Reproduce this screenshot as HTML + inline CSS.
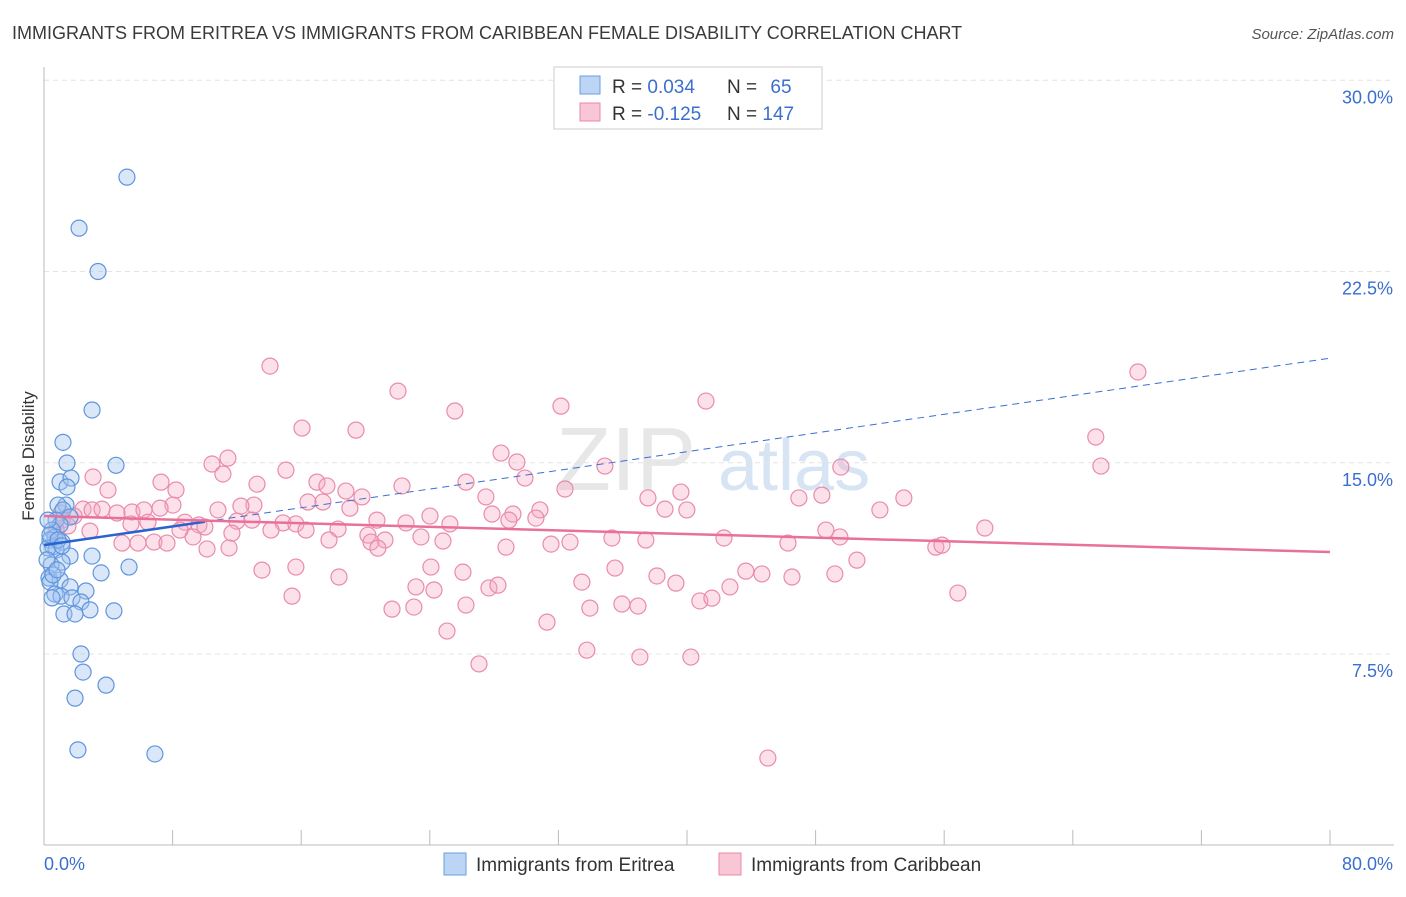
<!DOCTYPE html>
<html><head><meta charset="utf-8"><style>
body{margin:0;background:#fff;font-family:"Liberation Sans",sans-serif;}
svg text{font-family:"Liberation Sans",sans-serif;}
</style></head><body>
<svg id="chart" width="1406" height="892" viewBox="0 0 1406 892" xmlns="http://www.w3.org/2000/svg">
<text x="12" y="39" font-size="18" fill="#3a3a3a">IMMIGRANTS FROM ERITREA VS IMMIGRANTS FROM CARIBBEAN FEMALE DISABILITY CORRELATION CHART</text>
<text x="1394" y="39" font-size="15" fill="#555" text-anchor="end" font-style="italic">Source: ZipAtlas.com</text>
<g>
<text x="556" y="490" font-size="90" fill="#ddd" font-family="Liberation Serif" opacity="0.7">ZIP</text>
<text x="718" y="490" font-size="72" fill="#c7d9f0" opacity="0.7">atlas</text>
</g>
<g id="grid"></g>
<g id="axes"></g>
<g id="pts"></g>
<g id="trends"></g>
<text transform="translate(34,456) rotate(-90)" font-size="17" fill="#333" text-anchor="middle">Female Disability</text>
<g>
<rect x="554" y="67" width="268" height="62" fill="#fff" stroke="#ccc"/>
<rect x="580" y="76" width="20" height="18" fill="#bcd5f5" stroke="#6a9de0"/>
<rect x="580" y="103" width="20" height="18" fill="#f8c6d5" stroke="#e889a8"/>
<text x="612" y="93" font-size="19" fill="#333">R = <tspan fill="#3a6fd0">0.034</tspan></text>
<text x="727" y="93" font-size="19" fill="#333">N = <tspan fill="#3a6fd0" dx="8">65</tspan></text>
<text x="612" y="120" font-size="19" fill="#333">R = <tspan fill="#3a6fd0">-0.125</tspan></text>
<text x="727" y="120" font-size="19" fill="#333">N = <tspan fill="#3a6fd0">147</tspan></text>
</g>
<g>
<rect x="444" y="853" width="22" height="22" fill="#bcd5f5" stroke="#6a9de0"/>
<text x="476" y="871" font-size="19" fill="#333">Immigrants from Eritrea</text>
<rect x="719" y="853" width="22" height="22" fill="#f8c6d5" stroke="#e889a8"/>
<text x="751" y="871" font-size="19" fill="#333">Immigrants from Caribbean</text>
</g>
</svg>
<script>
const xTicks=[0,10,20,30,40,50,60,70,80];
const yTicks=[7.5,15,22.5,30];
const yTickLabels=["7.5%","15.0%","22.5%","30.0%"];
const xEndLabels=["0.0%","80.0%"];
const eritreaX=[5.16,2.18,3.36,2.99,1.18,1.43,4.48,1.0,1.68,1.43,1.37,0.87,1.18,1.62,0.75,1.0,0.5,0.68,1.12,0.37,0.56,0.75,0.25,1.62,2.99,1.12,0.44,5.29,3.55,0.31,1.0,0.37,1.62,2.61,0.68,1.06,0.5,1.74,2.3,2.86,4.35,1.24,1.93,2.3,2.43,3.86,1.93,2.11,6.9,0.25,0.37,0.87,1.12,0.19,0.56,0.81];
const eritreaY=[26.2,24.2,22.5,17.07,15.8,14.99,14.9,14.25,14.4,14.05,13.34,13.34,13.15,12.87,12.75,12.56,12.36,12.09,11.89,11.97,11.7,11.58,11.66,11.34,11.34,11.1,10.99,10.91,10.68,10.48,10.4,10.32,10.13,9.97,9.85,9.77,9.7,9.7,9.54,9.23,9.19,9.07,9.07,7.5,6.79,6.28,5.77,3.74,3.58,12.75,12.17,11.97,11.74,11.19,10.6,10.8];
const caribX=[14.06,68.05,22.02,41.18,32.16,25.56,16.05,19.41,65.43,11.44,28.43,10.45,29.42,34.89,49.57,65.75,3.05,7.28,15.05,11.13,26.25,29.92,8.21,13.25,16.98,17.6,22.27,32.41,39.62,3.98,18.78,19.78,27.49,17.35,37.57,46.96,48.39,53.49,16.42,13.06,12.25,8.02,2.43,2.99,3.61,4.54,5.47,6.22,7.22,10.82,19.03,27.87,29.17,30.85,38.63,39.99,52.0,1.87,1.12,24.01,20.71,22.52,28.92,30.6,6.47,8.77,9.64,12.0,12.94,14.87,15.67,25.25,58.53,48.64,2.86,5.41,10.01,14.12,18.29,20.15,11.69,23.45,35.33,37.44,42.3,49.51,16.3,17.73,21.21,24.82,4.85,5.85,6.84,7.65,9.27,10.14,20.34,20.77,28.74,31.54,32.72,46.28,55.48,55.86,50.57,13.56,15.67,18.35,24.07,26.06,35.52,38.13,39.31,33.46,43.66,44.66,46.53,49.2,23.14,24.26,27.68,28.24,42.67,15.43,23.01,26.25,21.65,33.96,35.95,36.95,40.8,41.55,56.85,31.29,25.07,33.77,37.07,40.24,27.06,45.03,11.51,8.46,1.06,1.49,0.75];
const caribY=[18.79,18.56,17.81,17.42,17.22,17.03,16.36,16.28,16.01,15.18,15.38,14.95,15.03,14.87,14.83,14.87,14.44,14.24,14.71,14.56,14.24,14.4,13.93,14.16,14.24,14.09,14.09,13.97,13.85,13.93,13.89,13.66,13.66,13.46,13.62,13.62,13.73,13.62,13.46,13.34,13.3,13.34,13.18,13.15,13.18,13.03,13.07,13.15,13.22,13.15,13.22,12.99,12.99,13.15,13.18,13.15,13.15,12.91,12.75,12.91,12.75,12.64,12.75,12.83,12.67,12.67,12.56,12.71,12.75,12.64,12.6,12.6,12.44,12.36,12.32,12.6,12.48,12.36,12.4,12.16,12.24,12.09,12.05,11.97,12.05,12.09,12.36,11.97,11.97,11.93,11.85,11.85,11.89,11.85,12.09,11.62,11.89,11.65,11.69,11.81,11.89,11.85,11.69,11.77,11.18,10.79,10.91,10.52,10.91,10.71,10.87,10.56,10.28,10.32,10.75,10.64,10.52,10.64,10.13,10.01,10.09,10.2,10.13,9.77,9.34,9.42,9.26,9.3,9.46,9.38,9.58,9.69,9.89,8.75,8.4,7.65,7.38,7.38,7.11,3.42,11.66,12.36,13.03,12.52,12.36];
const eritreaTrend=[11.77,19.1];
const caribTrend=[12.91,11.5];
const NS='http://www.w3.org/2000/svg';
const X0=44,X1=1330,Y0=845;
function sx(v){return X0+(v/80)*(X1-X0);}
function sy(v){return 654-(v-7.5)*25.5;}
function mk(tag,attrs,parent){const e=document.createElementNS(NS,tag);for(const k in attrs)e.setAttribute(k,attrs[k]);parent.appendChild(e);return e;}
const grid=document.getElementById('grid'),axes=document.getElementById('axes'),pts=document.getElementById('pts'),tr=document.getElementById('trends');
yTicks.forEach((t,i)=>{
 const l=mk('line',{x1:X0,x2:1394,y1:sy(t),y2:sy(t),stroke:'#e4e4e4','stroke-dasharray':'5,4'},grid);
 
 
 const tx=mk('text',{x:1393,y:sy(t)+23,'font-size':18,fill:'#3a6fd0','text-anchor':'end'},axes);
 tx.textContent=yTickLabels[i];
 
 
});
const ya=mk('line',{x1:X0,x2:X0,y1:67,y2:Y0,stroke:'#bbb'},axes);


const xa=mk('line',{x1:X0,x2:1394,y1:Y0,y2:Y0,stroke:'#bbb'},axes);


for(let v=0;v<=80;v+=80/10){
 const t=mk('line',{x1:sx(v),x2:sx(v),y1:830,y2:Y0,stroke:'#bbb'},axes);
 
 
}
[[0,'start',xEndLabels[0],44],[80,'end',xEndLabels[1],1393]].forEach(a=>{
 const t=mk('text',{x:a[3],y:870,'font-size':18,fill:'#3a6fd0','text-anchor':a[1]},axes);
 t.textContent=a[2];
 
 
});
caribX.forEach((x,i)=>{
 const c=mk('circle',{cx:sx(x),cy:sy(caribY[i]),r:8,fill:'rgba(245,170,195,0.35)',stroke:'#e98bab','stroke-width':1.2},pts);
 
 
});
eritreaX.forEach((x,i)=>{
 const c=mk('circle',{cx:sx(x),cy:sy(eritreaY[i]),r:8,fill:'rgba(160,195,240,0.4)',stroke:'#5f95dd','stroke-width':1.2},pts);
 
 
});
function ty(tr,x){return tr[0]+(tr[1]-tr[0])*x/80;}
const bd=mk('line',{x1:sx(10),y1:sy(ty(eritreaTrend,10)),x2:sx(80),y2:sy(ty(eritreaTrend,80)),stroke:'#3a6fd0','stroke-width':1,'stroke-dasharray':'7,5'},tr);


const bs=mk('line',{x1:sx(0),y1:sy(ty(eritreaTrend,0)),x2:sx(10),y2:sy(ty(eritreaTrend,10)),stroke:'#2a62d0','stroke-width':2.5},tr);


const ps=mk('line',{x1:sx(0),y1:sy(caribTrend[0]),x2:sx(80),y2:sy(caribTrend[1]),stroke:'#e8709a','stroke-width':2.5},tr);


</script>
</body></html>
